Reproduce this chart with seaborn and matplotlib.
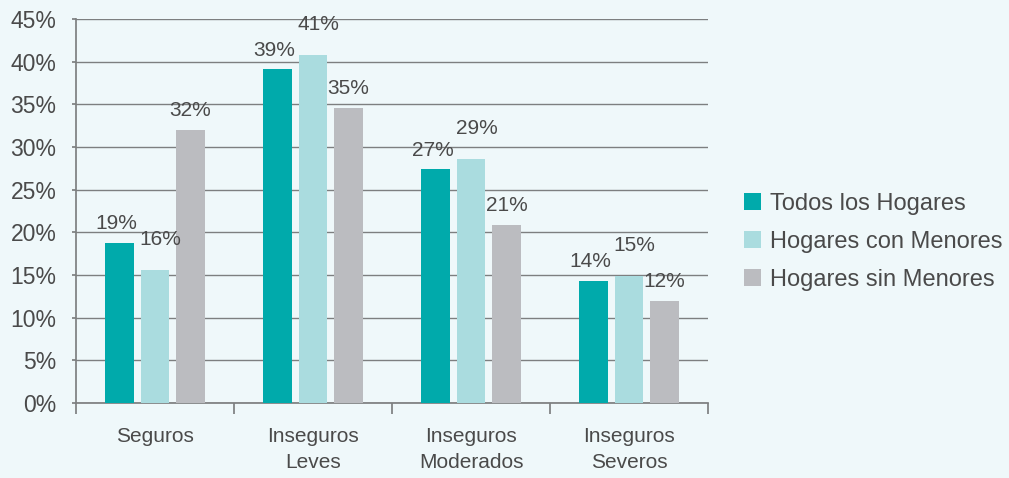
import pandas as pd
import numpy as np
import seaborn as sns
import matplotlib.pyplot as plt

# data
categorias = ["Seguros", "Inseguros\nLeves", "Inseguros\nModerados", "Inseguros\nSeveros"]
grupos = ["Todos los Hogares", "Hogares con Menores", "Hogares sin Menores"]
todos = [18.8, 39.1, 27.4, 14.3]
con_menores = [15.6, 40.8, 28.6, 14.9]
sin_menores = [32.0, 34.6, 20.9, 12.0]
yticks = [0, 5, 10, 15, 20, 25, 30, 35, 40, 45]

colores = ["#00aaab", "#aadcdf", "#bbbcc0"]
fondo = "#eff8fa"
texto = "#4a4a4a"

df = pd.DataFrame({
    "categoria": categorias * 3,
    "grupo": np.repeat(grupos, len(categorias)),
    "valor": todos + con_menores + sin_menores,
})

sns.set_theme(style="white")
plt.rcParams["font.family"] = ["Liberation Sans", "DejaVu Sans"]

fig = plt.figure(figsize=(10.09, 4.78), dpi=100, facecolor=fondo)
ax = fig.add_axes([0.0753, 0.157, 0.6264, 0.803])
ax.set_facecolor(fondo)

sns.barplot(data=df, x="categoria", y="valor", hue="grupo", order=categorias,
            hue_order=grupos, palette=colores, width=0.675, gap=0.2,
            saturation=1, linewidth=0, ax=ax, zorder=3)

# value labels above bars; middle series lifted a bit so labels don't collide
for cont, dy, dx in zip(ax.containers, [7, 15, 7], [-2, 4, 0]):
    for bar in cont:
        h = bar.get_height()
        ax.annotate(f"{h:.0f}%", (bar.get_x() + bar.get_width() / 2, h),
                    xytext=(dx, dy), textcoords="offset points",
                    ha="center", va="bottom", fontsize=15, color=texto)

ax.set_ylim(0, 45)
ax.set_xlim(-0.5, len(categorias) - 0.5)
ax.set_yticks(yticks)
ax.set_yticklabels([f"{t}%" for t in yticks])
ax.yaxis.grid(True, color="#7d7f80", linewidth=1, zorder=0)
ax.tick_params(axis="y", which="major", left=True, length=3, color="#7d7f80",
               labelsize=16.5, labelcolor=texto, pad=11)

# category separators as major ticks, names as minor ticks
ax.set_xticks(np.arange(-0.5, len(categorias)), labels=[])
ax.set_xticks(np.arange(len(categorias)), labels=categorias, minor=True)
ax.tick_params(axis="x", which="major", bottom=True, length=8, color="#7d7f80")
ax.tick_params(axis="x", which="minor", bottom=False, length=0, pad=17,
               labelsize=15, labelcolor=texto)
for lab in ax.get_xticklabels(minor=True):
    lab.set_linespacing(1.5)

for s in ["top", "right"]:
    ax.spines[s].set_visible(False)
ax.spines["left"].set_color("#7d7f80")
ax.spines["bottom"].set_color("#7d7f80")
ax.set_xlabel("")
ax.set_ylabel("")

leg = ax.legend(loc="center left", bbox_to_anchor=(1.042, 0.42), frameon=False,
                fontsize=17, handlelength=0.72, handleheight=0.72,
                handletextpad=0.4, labelspacing=0.68, labelcolor=texto,
                borderaxespad=0)

fig.savefig("out.png", dpi=100, facecolor=fondo)
